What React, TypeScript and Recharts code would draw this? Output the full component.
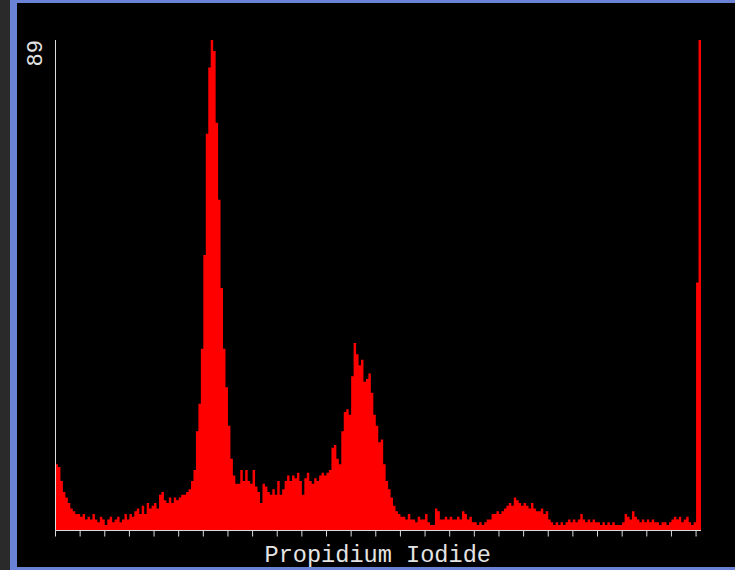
import { AreaChart, Area, XAxis, YAxis } from 'recharts';

// Propidium Iodide DNA histogram, counts per channel
const counts = [
  12, 11.5, 9, 7, 6, 5, 4, 3.5, 3, 3,
  2.5, 3, 2, 2.5, 2, 3, 2, 1.5, 2.5, 2,
  1, 2, 2.5, 1.5, 2, 2.5, 1.5, 2, 3, 2,
  3, 2.5, 3.5, 4, 3, 4.5, 3, 5, 4, 4.5,
  5, 4, 6.5, 7, 5.5, 5, 6, 5, 6, 5.5,
  6, 6.5, 6.5, 7, 7.5, 9, 11, 18, 23, 33,
  50, 72, 84, 89, 87, 74, 60, 44, 33, 26,
  19, 13, 10, 8.5, 8.5, 11, 9, 11, 9, 8.5,
  11, 8, 7, 5, 8.5, 8, 7, 6.5, 7.5, 6.5,
  9, 6.5, 7.5, 9, 10, 9, 10, 9.5, 10.5, 9,
  6.5, 9.5, 10.5, 9, 8.5, 9.5, 9, 10, 10.5, 10,
  10.5, 11, 15, 15.5, 13, 12, 18, 21.5, 22, 21,
  28, 34, 32, 30, 31, 27, 27.5, 28.5, 25, 21,
  19, 16, 16.5, 12, 9, 7.5, 6, 4.5, 3.5, 3,
  2.5, 2.5, 2, 3, 2, 2, 1.5, 2.5, 2, 2,
  3, 1.5, 1, 1, 4, 3.5, 2, 2, 2.5, 2,
  2.5, 2, 2, 2.5, 2, 3.5, 3, 2, 2.5, 1.5,
  1.5, 1, 1.5, 1, 1.5, 2, 2, 3, 3, 3.5,
  3, 3.5, 4, 4.5, 5, 4.5, 6, 5.5, 5, 4.5,
  5, 4.5, 4, 5, 4, 3.5, 3.5, 4, 3, 3.5,
  2, 1.5, 1, 1.5, 1, 1.5, 1, 1.5, 2, 1.5,
  2, 1.5, 2, 3, 2, 1.5, 2, 1.5, 2, 1.5,
  1.5, 1, 1.5, 1, 1.5, 1, 1.5, 1, 1, 1,
  1.5, 3, 2.5, 2, 3.5, 2.5, 2, 1.5, 2, 1.5,
  2, 1.5, 2, 1.5, 1.5, 1, 1.5, 1.5, 1, 1.5,
  2, 2.5, 2, 2.5, 1.5, 2, 2.5, 1.5, 1, 1.5,
  45, 89,
];

const xTicks = [
  0, 10, 20, 30, 40, 50, 60, 70, 80, 90, 100, 110, 120, 130,
  140, 150, 160, 170, 180, 190, 200, 210, 220, 230, 240, 250, 260,
];
const yMax = 89;
const xLabel = 'Propidium Iodide';

const data = counts.map((count, ch) => ({ ch, count }));
// close the last step so the final channel has its full width
data.push({ ch: counts.length, count: counts[counts.length - 1] });

const font = '"Liberation Mono", "Courier New", monospace';
const textColor = '#e4e4e4';

function YMaxTick(props: any) {
  const { x, y, payload } = props;
  return (
    <text
      x={x}
      y={y}
      transform={`rotate(-90, ${x}, ${y})`}
      textAnchor="end"
      fill={textColor}
      fontFamily={font}
      fontSize={22}
    >
      {payload.value}
    </text>
  );
}

export default function App() {
  return (
    <div
      style={{
        position: 'fixed',
        left: 0,
        top: 0,
        width: 735,
        height: 570,
        background: '#000',
        overflow: 'hidden',
      }}
    >
      <div style={{ position: 'absolute', left: 0, top: 0, width: 10, height: 570, background: '#2a2a2a' }} />
      <div style={{ position: 'absolute', left: 10, top: 0, width: 7, height: 570, background: '#6b83d7' }} />
      <div style={{ position: 'absolute', left: 10, top: 0, width: 725, height: 3, background: '#6b83d7' }} />
      <div style={{ position: 'absolute', left: 10, top: 567, width: 725, height: 3, background: '#6b83d7' }} />
      <div style={{ position: 'absolute', left: 0, top: 0 }}>
        <AreaChart
          width={735}
          height={570}
          data={data}
          margin={{ top: 40, right: 34, bottom: 0, left: 15.5 }}
        >
          <XAxis
            dataKey="ch"
            type="number"
            domain={[0, counts.length]}
            ticks={xTicks}
            interval={0}
            height={39.5}
            stroke="#dcdcdc"
            tickSize={6}
            tickFormatter={() => ''}
            label={{
              content: (p: any) => (
                <text
                  x={p.viewBox.x + p.viewBox.width / 2 - 0.5}
                  y={p.viewBox.y + 31}
                  textAnchor="middle"
                  fill={textColor}
                  fontFamily={font}
                  fontSize={23.6}
                >
                  {xLabel}
                </text>
              ),
            }}
          />
          <YAxis
            type="number"
            domain={[0, yMax]}
            ticks={[yMax]}
            allowDataOverflow
            width={40}
            stroke="#dcdcdc"
            tickLine={false}
            tick={(p: any) => <YMaxTick {...p} x={42} y={40} />}
          />
          <Area
            type="stepAfter"
            dataKey="count"
            stroke="none"
            fill="#ff0000"
            fillOpacity={1}
            isAnimationActive={false}
          />
        </AreaChart>
      </div>
    </div>
  );
}
